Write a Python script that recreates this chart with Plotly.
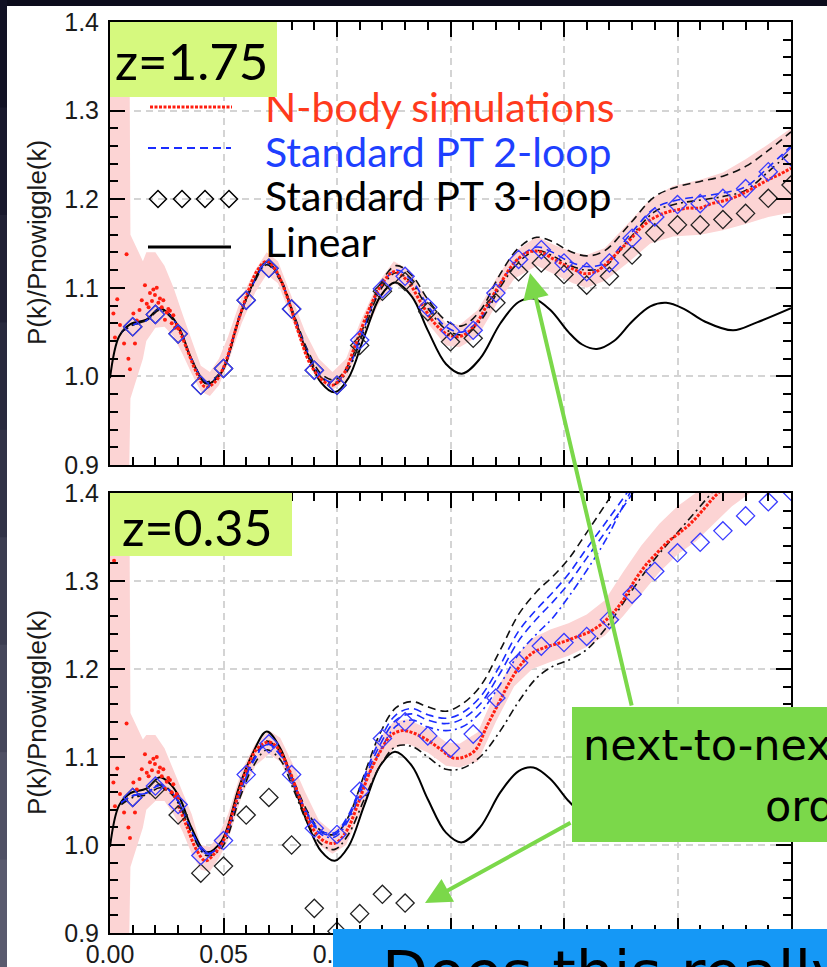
import plotly.graph_objects as go

W, H = 827, 967

# ------------------------------------------------------------------ data
# Linear theory (same ratio in both panels)
K_LIN = [0.000, 0.004, 0.009, 0.016, 0.022, 0.027, 0.031, 0.036, 0.0425, 0.049,
         0.057, 0.063, 0.069, 0.075, 0.081, 0.087, 0.093, 0.099, 0.105, 0.112,
         0.119, 0.1255, 0.133, 0.140, 0.148, 0.155, 0.163, 0.172, 0.180, 0.1865,
         0.194, 0.202, 0.208, 0.2145, 0.222, 0.230, 0.238, 0.245, 0.253, 0.262,
         0.2745, 0.285, 0.300]
LIN = [0.998, 1.045, 1.059, 1.064, 1.077, 1.068, 1.052, 1.019, 0.992, 1.004,
       1.067, 1.105, 1.129, 1.110, 1.068, 1.025, 0.993, 0.982, 0.998, 1.045,
       1.090, 1.106, 1.090, 1.052, 1.014, 1.003, 1.020, 1.060, 1.084, 1.088,
       1.075, 1.050, 1.036, 1.031, 1.040, 1.062, 1.079, 1.083, 1.076, 1.062,
       1.052, 1.061, 1.077]

# k grid of the perturbation-theory curves
K_PT = [0.005, 0.010, 0.016, 0.022, 0.027, 0.031, 0.036, 0.0425, 0.049, 0.057,
        0.063, 0.069, 0.075, 0.081, 0.087, 0.093, 0.099, 0.105, 0.112, 0.119,
        0.126, 0.133, 0.140, 0.148, 0.155, 0.163, 0.172, 0.180, 0.188, 0.195,
        0.202, 0.210, 0.218, 0.229, 0.240, 0.250, 0.260, 0.270, 0.280, 0.290,
        0.300]

# z = 1.75 panel
PT2_BLUE_Z175 = [1.050, 1.058, 1.063, 1.076, 1.067, 1.051, 1.019, 0.993, 1.005, 1.067,
                 1.104, 1.127, 1.109, 1.068, 1.028, 1.000, 0.993, 1.010, 1.055, 1.100,
                 1.120, 1.108, 1.080, 1.056, 1.050, 1.065, 1.105, 1.133, 1.146, 1.140,
                 1.130, 1.124, 1.128, 1.160, 1.190, 1.199, 1.203, 1.207, 1.214, 1.236,
                 1.260]
PT_BLACKDASH_Z175 = [1.050, 1.058, 1.063, 1.076, 1.067, 1.051, 1.019, 0.994, 1.006, 1.068,
                     1.105, 1.129, 1.111, 1.070, 1.030, 1.003, 0.996, 1.013, 1.058, 1.104,
                     1.125, 1.114, 1.087, 1.063, 1.057, 1.074, 1.116, 1.145, 1.157, 1.152,
                     1.142, 1.136, 1.142, 1.172, 1.203, 1.214, 1.220, 1.226, 1.237, 1.255,
                     1.276]
PT_BLACKDD_Z175 = [1.050, 1.058, 1.063, 1.075, 1.066, 1.050, 1.018, 0.992, 1.004, 1.066,
                   1.103, 1.126, 1.108, 1.067, 1.027, 0.999, 0.991, 1.008, 1.052, 1.097,
                   1.117, 1.105, 1.077, 1.053, 1.047, 1.062, 1.101, 1.129, 1.142, 1.136,
                   1.126, 1.120, 1.124, 1.156, 1.186, 1.195, 1.199, 1.203, 1.210, 1.231,
                   1.254]

# z = 0.35 panel
PT_BLACKDASH_Z035 = [1.048, 1.056, 1.059, 1.069, 1.061, 1.046, 1.016, 0.991, 1.002, 1.060,
                     1.097, 1.118, 1.106, 1.072, 1.038, 1.016, 1.012, 1.032, 1.080, 1.127,
                     1.156, 1.163, 1.157, 1.152, 1.160, 1.180, 1.222, 1.262, 1.288, 1.305,
                     1.325, 1.355, 1.386, 1.430]
PT2_BLUE_A_Z035 = [1.048, 1.056, 1.059, 1.068, 1.060, 1.045, 1.015, 0.990, 1.001, 1.059,
                   1.096, 1.116, 1.104, 1.070, 1.036, 1.016, 1.014, 1.034, 1.078, 1.120,
                   1.148, 1.155, 1.148, 1.144, 1.150, 1.168, 1.205, 1.243, 1.268, 1.287,
                   1.308, 1.337, 1.365, 1.405, 1.450]
PT2_BLUE_B_Z035 = [1.048, 1.056, 1.059, 1.068, 1.060, 1.045, 1.015, 0.990, 1.001, 1.058,
                   1.095, 1.115, 1.103, 1.069, 1.035, 1.014, 1.012, 1.031, 1.074, 1.114,
                   1.142, 1.149, 1.142, 1.138, 1.143, 1.160, 1.196, 1.232, 1.257, 1.276,
                   1.297, 1.326, 1.355, 1.395, 1.440]
PT2_BLUE_DD_Z035 = [1.048, 1.056, 1.059, 1.068, 1.060, 1.045, 1.015, 0.990, 1.000, 1.057,
                    1.094, 1.114, 1.102, 1.068, 1.033, 1.012, 1.009, 1.028, 1.069, 1.107,
                    1.135, 1.142, 1.134, 1.130, 1.134, 1.150, 1.183, 1.217, 1.240, 1.258,
                    1.282, 1.312, 1.345, 1.400, 1.450]
PT_BLACKDD_Z035 = [1.046, 1.054, 1.057, 1.065, 1.058, 1.043, 1.013, 0.988, 0.996, 1.052,
                   1.089, 1.108, 1.097, 1.062, 1.025, 1.001, 0.995, 1.012, 1.052, 1.090,
                   1.112, 1.112, 1.100, 1.086, 1.087, 1.100, 1.130, 1.163, 1.190, 1.203,
                   1.210, 1.222, 1.245, 1.286, 1.325, 1.355, 1.385, 1.415]

# diamonds (k = 0.01 ... 0.30)
K_DIAM = [0.01, 0.02, 0.03, 0.04, 0.05, 0.06, 0.07, 0.08, 0.09, 0.10,
          0.11, 0.12, 0.13, 0.14, 0.15, 0.16, 0.17, 0.18, 0.19, 0.20,
          0.21, 0.22, 0.23, 0.24, 0.25, 0.26, 0.27, 0.28, 0.29, 0.30]
BLUE_DIAM_Z175 = [1.056, 1.070, 1.048, 0.990, 1.009, 1.086, 1.122, 1.076, 1.007, 0.990,
                  1.041, 1.099, 1.113, 1.078, 1.051, 1.052, 1.094, 1.132, 1.143, 1.128,
                  1.118, 1.128, 1.156, 1.180, 1.194, 1.195, 1.201, 1.212, 1.231, 1.248]
PT3_DIAM_Z175 = [1.056, 1.070, 1.048, 0.990, 1.009, 1.086, 1.122, 1.076, 1.007, 0.990,
                 1.035, 1.096, 1.107, 1.073, 1.039, 1.043, 1.083, 1.118, 1.128, 1.115,
                 1.103, 1.113, 1.137, 1.162, 1.171, 1.171, 1.177, 1.184, 1.201, 1.216]
BLUE_DIAM_Z035 = [1.054, 1.067, 1.046, 0.988, 1.005, 1.080, 1.115, 1.080, 1.019, 1.012,
                  1.061, 1.121, 1.140, 1.124, 1.110, 1.126, 1.167, 1.207, 1.226, 1.230,
                  1.237, 1.256, 1.285, 1.311, 1.332, 1.344, 1.357, 1.374, 1.390, 1.402]
PT3_DIAM_Z035 = [1.054, 1.063, 1.034, 0.968, 0.976, 1.034, 1.054, 1.000, 0.928, 0.902,
                 0.922, 0.944, 0.934]

# N-body: scattered low-k points (same realisation in both panels)
NB_LOWK_K = [0.0015, 0.0018, 0.0022, 0.0032, 0.0044, 0.0062, 0.0073, 0.0081, 0.0088, 0.0103,
             0.0110, 0.0118, 0.0130, 0.0140, 0.0154, 0.0162, 0.0170, 0.0176, 0.0185, 0.0191,
             0.0198, 0.0206, 0.0213, 0.0220, 0.0228, 0.0235, 0.0242, 0.0250, 0.0257, 0.0264,
             0.0272, 0.0279, 0.0287, 0.0294, 0.0301]
NB_LOWK_V = [1.071, 1.323, 1.044, 1.087, 1.058, 1.037, 1.138, 1.020, 1.008, 1.071,
             1.037, 1.063, 1.075, 1.086, 1.103, 1.082, 1.078, 1.094, 1.085, 1.098,
             1.092, 1.100, 1.083, 1.088, 1.078, 1.086, 1.064, 1.072, 1.076, 1.074,
             1.060, 1.069, 1.055, 1.058, 1.054]

# N-body: dense measurements
NB_K_Z175 = [0.030, 0.034, 0.038, 0.042, 0.046, 0.050, 0.055, 0.060, 0.065, 0.069,
             0.073, 0.078, 0.083, 0.088, 0.093, 0.098, 0.103, 0.108, 0.114, 0.120,
             0.125, 0.131, 0.137, 0.143, 0.149, 0.154, 0.160, 0.166, 0.172, 0.178,
             0.184, 0.189, 0.195, 0.200, 0.205, 0.209, 0.214, 0.219, 0.224, 0.229,
             0.234, 0.239, 0.245, 0.250, 0.255, 0.260, 0.265, 0.270, 0.275, 0.280,
             0.285, 0.290, 0.295, 0.300]
NB_V_Z175 = [1.056, 1.030, 1.005, 0.988, 0.993, 1.010, 1.050, 1.090, 1.120, 1.130,
             1.120, 1.090, 1.050, 1.015, 0.997, 0.990, 1.003, 1.035, 1.075, 1.105,
             1.118, 1.108, 1.083, 1.060, 1.047, 1.045, 1.055, 1.080, 1.105, 1.128,
             1.140, 1.141, 1.133, 1.126, 1.120, 1.116, 1.118, 1.128, 1.141, 1.154,
             1.168, 1.178, 1.185, 1.188, 1.190, 1.190, 1.195, 1.198, 1.202, 1.208,
             1.215, 1.222, 1.228, 1.235]
NB_K_Z035 = [0.030, 0.034, 0.038, 0.042, 0.046, 0.050, 0.055, 0.060, 0.065, 0.070,
             0.074, 0.079, 0.084, 0.089, 0.094, 0.099, 0.104, 0.109, 0.114, 0.119,
             0.124, 0.129, 0.134, 0.140, 0.146, 0.151, 0.156, 0.161, 0.166, 0.171,
             0.176, 0.181, 0.186, 0.191, 0.196, 0.201, 0.206, 0.211, 0.216, 0.221,
             0.226, 0.231, 0.236, 0.241, 0.246, 0.251, 0.256, 0.261, 0.266, 0.270]
NB_V_Z035 = [1.045, 1.020, 0.995, 0.982, 0.990, 1.005, 1.045, 1.085, 1.110, 1.117,
             1.110, 1.085, 1.050, 1.020, 1.005, 1.002, 1.015, 1.045, 1.080, 1.106,
             1.125, 1.130, 1.127, 1.119, 1.108, 1.099, 1.100, 1.108, 1.135, 1.160,
             1.185, 1.205, 1.218, 1.224, 1.228, 1.232, 1.237, 1.242, 1.250, 1.262,
             1.278, 1.300, 1.318, 1.332, 1.345, 1.355, 1.366, 1.380, 1.395, 1.405]

# N-body error band
BAND_K_Z175 = [0.000, 0.0085, 0.009, 0.0145, 0.016, 0.020, 0.024, 0.028, 0.032, 0.036,
               0.040, 0.044, 0.048, 0.052, 0.058, 0.064, 0.069, 0.074, 0.080, 0.086,
               0.092, 0.098, 0.104, 0.110, 0.118, 0.125, 0.132, 0.140, 0.148, 0.154,
               0.162, 0.170, 0.178, 0.188, 0.196, 0.204, 0.210, 0.218, 0.228, 0.238,
               0.248, 0.260, 0.270, 0.280, 0.290, 0.300]
BAND_LO_Z175 = [0.900, 0.900, 0.975, 1.020, 1.040, 1.055, 1.056, 1.045, 1.025, 1.003,
                0.983, 0.978, 0.990, 1.015, 1.060, 1.095, 1.115, 1.105, 1.065, 1.025,
                0.995, 0.985, 0.995, 1.035, 1.080, 1.105, 1.095, 1.060, 1.035, 1.033,
                1.045, 1.080, 1.110, 1.125, 1.115, 1.105, 1.100, 1.108, 1.128, 1.150,
                1.158, 1.160, 1.165, 1.172, 1.180, 1.185]
BAND_HI_Z175 = [1.420, 1.420, 1.160, 1.130, 1.140, 1.140, 1.125, 1.100, 1.070, 1.040,
                1.012, 1.005, 1.020, 1.045, 1.090, 1.120, 1.140, 1.130, 1.090, 1.050,
                1.020, 1.005, 1.020, 1.060, 1.105, 1.130, 1.120, 1.085, 1.060, 1.058,
                1.075, 1.110, 1.140, 1.158, 1.148, 1.140, 1.137, 1.145, 1.172, 1.200,
                1.215, 1.222, 1.230, 1.245, 1.262, 1.280]
BAND_K_Z035 = [0.000, 0.0085, 0.009, 0.0145, 0.016, 0.020, 0.024, 0.028, 0.032, 0.036,
               0.040, 0.044, 0.048, 0.052, 0.058, 0.064, 0.070, 0.075, 0.080, 0.086,
               0.092, 0.098, 0.104, 0.110, 0.118, 0.125, 0.131, 0.140, 0.148, 0.154,
               0.162, 0.170, 0.178, 0.186, 0.194, 0.202, 0.210, 0.218, 0.226, 0.234,
               0.242, 0.250, 0.258, 0.266, 0.274, 0.282]
BAND_LO_Z035 = [0.900, 0.900, 0.975, 1.020, 1.040, 1.050, 1.050, 1.035, 1.015, 0.990,
                0.972, 0.970, 0.985, 1.005, 1.055, 1.090, 1.103, 1.095, 1.068, 1.030,
                1.000, 0.990, 1.000, 1.035, 1.085, 1.110, 1.115, 1.105, 1.090, 1.088,
                1.095, 1.140, 1.180, 1.200, 1.208, 1.215, 1.225, 1.238, 1.260, 1.285,
                1.310, 1.330, 1.345, 1.365, 1.385, 1.400]
BAND_HI_Z035 = [1.420, 1.420, 1.150, 1.120, 1.125, 1.125, 1.110, 1.085, 1.060, 1.035,
                1.000, 0.998, 1.012, 1.035, 1.085, 1.115, 1.130, 1.122, 1.095, 1.060,
                1.028, 1.015, 1.028, 1.065, 1.120, 1.140, 1.143, 1.132, 1.117, 1.115,
                1.128, 1.175, 1.212, 1.235, 1.245, 1.252, 1.262, 1.278, 1.310, 1.340,
                1.365, 1.385, 1.400, 1.410, 1.420, 1.420]

LEGEND_LABELS = ["N-body simulations", "Standard PT 2-loop", "Standard PT 3-loop", "Linear"]
PANEL_LABELS = ["z=1.75", "z=0.35"]
Y_TITLE = "P(k)/Pnowiggle(k)"
BOX_TEXT_1 = "next-to-next-to-leading"
BOX_TEXT_2 = "order"
BOTTOM_TEXT = "Does this really work?"

# ------------------------------------------------------------------ style
RED = "#ff1e10"
RED_TXT = "#ff3a1c"
BLUE = "#1a2cff"
BLUE_TXT = "#1e40ff"
DIAM_BLUE = "#3a3cff"
PINK = "#fcd4d4"
GREEN = "#7bd84a"
LIGHT_GREEN = "#d6f97e"
AZURE = "#1598f6"
DASH = "8px,5px"
DASHDOT = "8px,4px,2px,4px"


def px(x):
    return x / W


def py(y):
    return 1 - y / H


fig = go.Figure()


def add_panel(xa, ya, band_k, band_lo, band_hi, lines, nb_k, nb_v, black_diam, blue_diam):
    fig.add_trace(go.Scatter(x=band_k + band_k[::-1], y=band_hi + band_lo[::-1],
                             fill="toself", fillcolor=PINK, mode="lines",
                             line=dict(width=0), xaxis=xa, yaxis=ya, hoverinfo="skip"))
    fig.add_trace(go.Scatter(x=K_LIN, y=LIN, mode="lines", line=dict(color="black", width=2, shape="spline"),
                             xaxis=xa, yaxis=ya))
    for vals, color, dash in lines:
        fig.add_trace(go.Scatter(x=K_PT[:len(vals)], y=vals, mode="lines",
                                 line=dict(color=color, width=1.6, dash=dash, shape="spline"),
                                 xaxis=xa, yaxis=ya))
    fig.add_trace(go.Scatter(x=NB_LOWK_K, y=NB_LOWK_V, mode="markers",
                             marker=dict(color=RED, size=4), xaxis=xa, yaxis=ya))
    fig.add_trace(go.Scatter(x=nb_k, y=nb_v, mode="lines",
                             line=dict(color=RED, width=3, dash="3px,1.5px", shape="spline"),
                             xaxis=xa, yaxis=ya))
    fig.add_trace(go.Scatter(x=K_DIAM[:len(black_diam)], y=black_diam, mode="markers",
                             marker=dict(symbol="diamond-open", size=14, color="#222",
                                         line=dict(width=1.3, color="#222")),
                             xaxis=xa, yaxis=ya))
    fig.add_trace(go.Scatter(x=K_DIAM[:len(blue_diam)], y=blue_diam, mode="markers",
                             marker=dict(symbol="diamond-open", size=14, color=DIAM_BLUE,
                                         line=dict(width=1.3, color=DIAM_BLUE)),
                             xaxis=xa, yaxis=ya))


add_panel("x", "y", BAND_K_Z175, BAND_LO_Z175, BAND_HI_Z175,
          [(PT_BLACKDASH_Z175, "#111", DASH), (PT2_BLUE_Z175, BLUE, DASH),
           (PT_BLACKDD_Z175, "#111", DASHDOT)],
          NB_K_Z175, NB_V_Z175, PT3_DIAM_Z175, BLUE_DIAM_Z175)
add_panel("x2", "y2", BAND_K_Z035, BAND_LO_Z035, BAND_HI_Z035,
          [(PT_BLACKDASH_Z035, "#111", DASH), (PT2_BLUE_A_Z035, BLUE, DASH),
           (PT2_BLUE_B_Z035, BLUE, DASH), (PT2_BLUE_DD_Z035, BLUE, DASHDOT),
           (PT_BLACKDD_Z035, "#111", DASHDOT)],
          NB_K_Z035, NB_V_Z035, PT3_DIAM_Z035, BLUE_DIAM_Z035)

TICKFONT = dict(family="Liberation Sans", size=25, color="#1a1a1a")
common = dict(ticks="inside", tickwidth=2, tickcolor="black", ticklen=15,
              showline=True, linecolor="black", linewidth=2, mirror="allticks",
              showgrid=True, gridcolor="#d4d4d4", gridwidth=1.5, griddash="7px,5px",
              zeroline=False, tickfont=TICKFONT)
xcommon = dict(common, range=[0, 0.3], tick0=0, dtick=0.05, tickformat=".2f",
               minor=dict(tick0=0, dtick=0.01, ticks="inside", ticklen=8, tickwidth=1.5,
                          tickcolor="black", showgrid=False),
               domain=[px(110), px(791)], ticklabelstandoff=-2)
ycommon = dict(common, range=[0.9, 1.4], tick0=0.9, dtick=0.1, tickformat=".1f",
               minor=dict(tick0=0.9, dtick=0.02, ticks="inside", ticklen=8, tickwidth=1.5,
                          tickcolor="black", showgrid=False),
               ticklabelstandoff=4)

fig.update_layout(
    width=W, height=H, autosize=False, showlegend=False,
    margin=dict(l=0, r=0, t=0, b=0, pad=0, autoexpand=False),
    paper_bgcolor="white", plot_bgcolor="white",
    xaxis=dict(xcommon, anchor="y", showticklabels=False),
    yaxis=dict(ycommon, anchor="x", domain=[py(465), py(22)]),
    xaxis2=dict(xcommon, anchor="y2"),
    yaxis2=dict(ycommon, anchor="x2", domain=[py(933), py(493)]),
)

shapes = []


def rect(x0, y0, x1, y1, color):
    shapes.append(dict(type="rect", xref="paper", yref="paper", x0=px(x0), x1=px(x1),
                       y0=py(y1), y1=py(y0), fillcolor=color, line=dict(width=0), layer="above"))


# slide background strips
rect(0, 0, W, 6, "#0c0c1c")
strip_cols = ["#111124", "#18182c", "#202034", "#28293d", "#313246", "#3b3c50", "#45465a", "#4f5064", "#595a6e"]
seg = H / len(strip_cols)
for i, c in enumerate(strip_cols):
    rect(0, i * seg, 7, (i + 1) * seg + 1, c)


def hline(x0, x1, y, color, width, dash):
    shapes.append(dict(type="line", xref="paper", yref="paper", x0=px(x0), x1=px(x1),
                       y0=py(y), y1=py(y), line=dict(color=color, width=width, dash=dash),
                       layer="above"))


# legend samples
hline(150, 232, 107, RED, 3, "3px,1.5px")
hline(148, 231, 148, BLUE, 2, DASH)
hline(148, 231, 247, "black", 3, "solid")
for cx in [158, 182, 205, 229]:
    cy, r = 199, 8.5
    path = (f"M{px(cx - r)},{py(cy)} L{px(cx)},{py(cy - r)} "
            f"L{px(cx + r)},{py(cy)} L{px(cx)},{py(cy + r)} Z")
    shapes.append(dict(type="path", xref="paper", yref="paper", path=path,
                       line=dict(color="black", width=1.5), layer="above"))

fig.update_layout(shapes=shapes)

ann = []


def box(x0, y0, x1, y1, color):
    # opaque box drawn as an annotation so it sits above axis labels
    ann.append(dict(x=px(x0), y=py(y0), xref="paper", yref="paper", text=" ",
                    showarrow=False, xanchor="left", yanchor="top",
                    width=x1 - x0, height=y1 - y0, bgcolor=color, borderpad=0,
                    borderwidth=0, font=dict(size=4)))


def text(x, y, s, size, color="black", family="Lato", xanchor="left", yanchor="middle",
         angle=0, width=None):
    d = dict(x=px(x), y=py(y), xref="paper", yref="paper", text=s, showarrow=False,
             xanchor=xanchor, yanchor=yanchor, textangle=angle, borderpad=0,
             font=dict(family=family, size=size, color=color))
    if width is not None:
        d.update(width=width, align="left")
    ann.append(d)


legend_colors = [RED_TXT, BLUE_TXT, "black", "black"]
legend_y = [106, 151, 195, 241]
for lab, col, yy in zip(LEGEND_LABELS, legend_colors, legend_y):
    text(264, yy, lab, 41, col)

box(110, 22, 277, 97, LIGHT_GREEN)
box(110, 493, 292, 556, LIGHT_GREEN)
text(114, 61, PANEL_LABELS[0], 51)
text(121, 527, PANEL_LABELS[1], 50)
text(37, 243, Y_TITLE, 26, "#1a1a1a", "Liberation Sans", "center", "middle", -90)
text(37, 713, Y_TITLE, 26, "#1a1a1a", "Liberation Sans", "center", "middle", -90)

# arrows
for (tx, ty, sx, sy) in [(530, 273, 632, 707), (425, 903, 572, 822)]:
    ann.append(dict(x=px(tx), y=py(ty), xref="paper", yref="paper", text="",
                    showarrow=True, ax=sx - tx, ay=sy - ty, axref="pixel", ayref="pixel",
                    arrowhead=2, arrowsize=1.3, arrowwidth=4, arrowcolor=GREEN, standoff=0))

box(572, 707, W + 4, 842, GREEN)
text(582, 745, BOX_TEXT_1, 43, "black", "DejaVu Sans", width=W - 582)
text(764, 806, BOX_TEXT_2, 43, "black", "DejaVu Sans", width=W - 764)
box(333, 929, W + 4, H + 40, AZURE)
text(381, 937, BOTTOM_TEXT, 60, "black", "DejaVu Sans", "left", "top", width=W - 381)

fig.update_layout(annotations=ann)

fig.write_html("out.html")
